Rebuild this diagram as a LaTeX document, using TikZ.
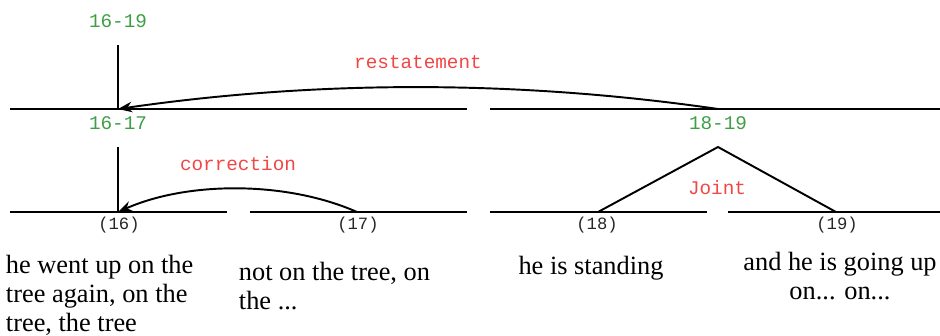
\documentclass[tikz,border=0pt]{standalone}
\usepackage{fontspec}
\setmainfont{Liberation Serif}
\setmonofont{Liberation Mono}
\usetikzlibrary{arrows.meta}
\definecolor{cSPAN}{HTML}{3E9E46}
\definecolor{cREL}{HTML}{F24646}

\begin{document}
\begin{tikzpicture}[x=0.02cm, y=-0.02cm, >={Stealth[length=8pt,width=6pt]}, line width=1.1pt,
  span/.style={font=\fontsize{11}{13}\selectfont\ttfamily, text=cSPAN, inner sep=0pt},
  rel/.style={font=\fontsize{11}{13}\selectfont\ttfamily, text=cREL, inner sep=0pt},
  unit/.style={font=\fontsize{9.8}{11}\selectfont\ttfamily, text=black!85, inner sep=0pt},
  seg/.style={font=\fontsize{15}{16.5}\selectfont, inner sep=0pt}]
\useasboundingbox (0,0) rectangle (940,335);
% the two rows of segment lines
\foreach \a/\b in {10/467,490/940} \draw (\a,109) -- (\b,109);
\foreach \a/\b in {10/227,250/467,490/707,728/940} \draw (\a,212) -- (\b,212);
% points where the spans sit
\coordinate (top1619) at (118,45);
\coordinate (s1617) at (118,109);
\coordinate (s1819) at (718,109);
\coordinate (top1617) at (118,147);
\coordinate (top1819) at (718,147);
\foreach \u/\x in {16/118,17/357,18/598,19/836} \coordinate (u\u) at (\x,212);
% span and unit labels
\node[span] (l1619) at (118,21) {16-19};
\node[span] (l1617) at (118,123) {16-17};
\node[span] (l1819) at (718,123) {18-19};
\foreach \u/\x in {16/119,17/358,18/597,19/837} \node[unit] (n\u) at (\x,225) {(\u)};
% relations
\draw (top1619) -- (s1617);
\draw[->] (s1819) .. controls +(-200,-29) and +(200,-29) .. (s1617);
\node[rel] (restate) at (418,62) {restatement};
\draw (top1617) -- (u16);
\draw[->] (u17) .. controls +(-70,-31) and +(70,-31) .. (u16);
\node[rel] (correct) at (238,164) {correction};
\draw (u18) -- (top1819) -- (u19);
\node[rel] (joint) at (717,188) {Joint};
% the text of each unit
\node[seg, anchor=north west, align=left] (t16) at (5,254) {he went up on the\\tree again, on the\\tree, the tree};
\node[seg, anchor=north west, align=left] (t17) at (238,261) {not on the tree, on\\the ...};
\node[seg, anchor=north, align=center] (t18) at (591,255) {he is standing};
\node[seg, anchor=north, align=center] (t19) at (840,251) {and he is going up\\on... on...};
\end{tikzpicture}
\end{document}
